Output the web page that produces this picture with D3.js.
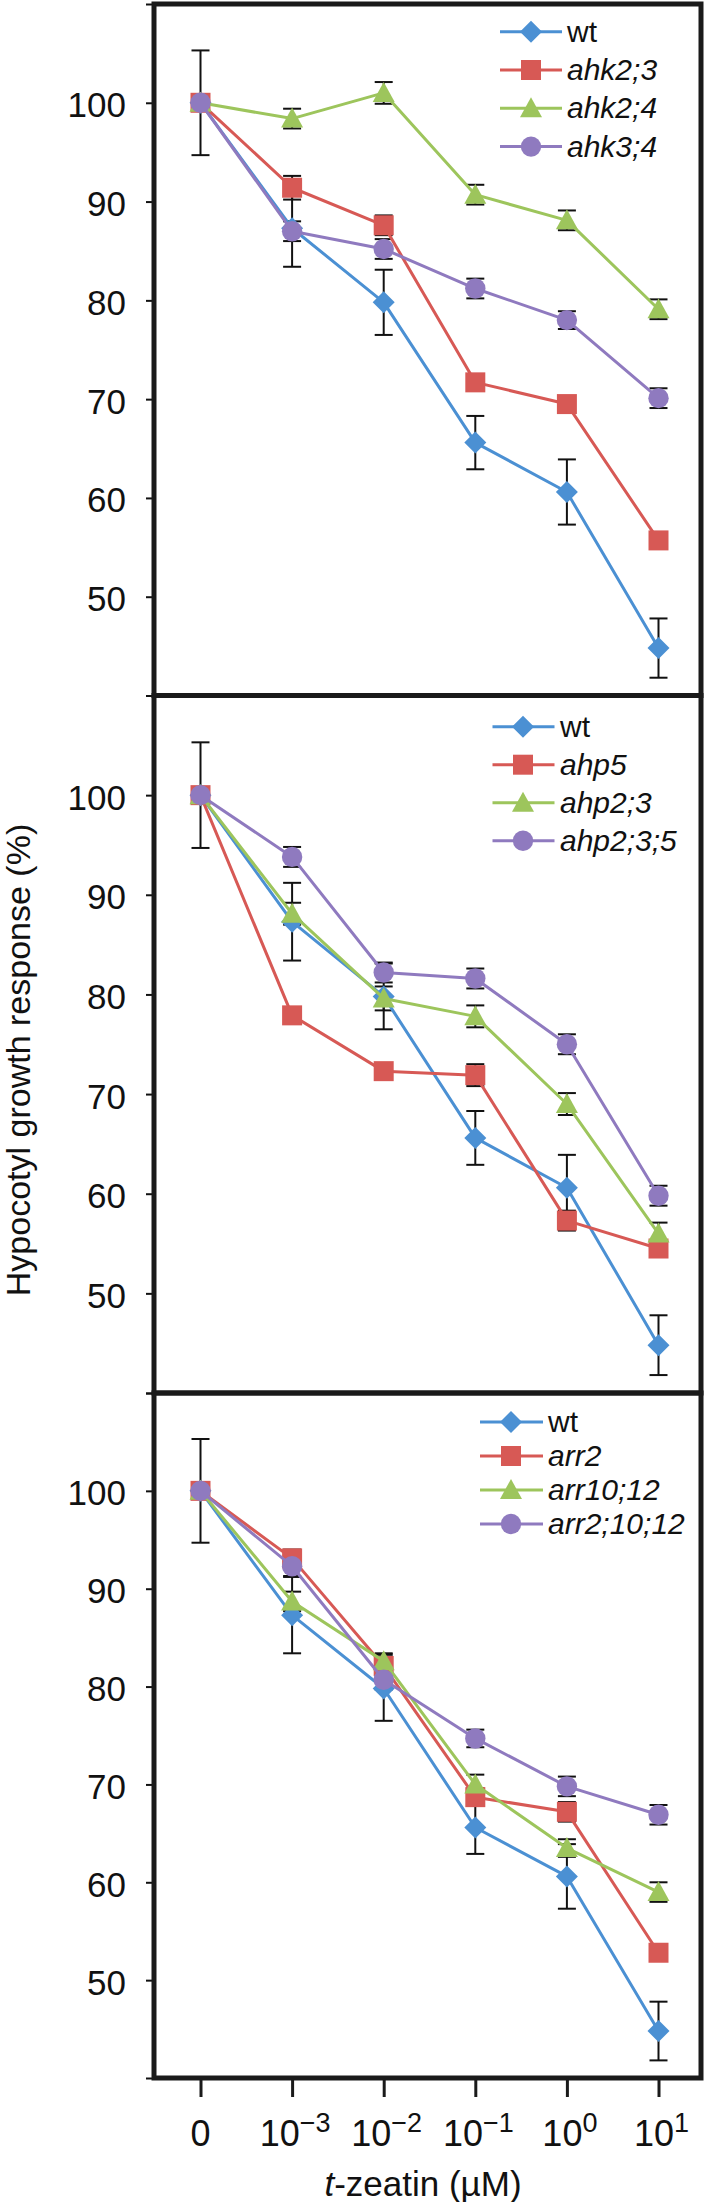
<!DOCTYPE html>
<html>
<head>
<meta charset="utf-8">
<script src="https://cdn.jsdelivr.net/npm/d3@7"></script>
<style>
  html, body { margin: 0; padding: 0; background: #ffffff; }
  svg { display: block; }
  text { font-family: "Liberation Sans", Arial, Helvetica, sans-serif; fill: #111; }
</style>
</head>
<body>
<div id="chart"></div>
<script>
// ---------- data ----------
const categories = ["0", "1e-3", "1e-2", "1e-1", "1e0", "1e1"];
const xTickBase = ["0", "10", "10", "10", "10", "10"];
const xTickExp = ["", "\u22123", "\u22122", "\u22121", "0", "1"];
const yTickValues = [40, 50, 60, 70, 80, 90, 100, 110];
const yTickLabels = ["", "50", "60", "70", "80", "90", "100", ""];

const wtValues = [100, 87.3, 79.8, 65.6, 60.6, 44.8];
const wtErrors = [5.3, 3.9, 3.3, 2.7, 3.3, 3.0];

// panel 1
const panel1Names = ["wt", "ahk2;3", "ahk2;4", "ahk3;4"];
const ahk23Values = [100, 91.4, 87.6, 71.7, 69.5, 55.7];
const ahk23Errors = [0, 1.2, 1.0, 0.7, 0.7, 0.7];
const ahk24Values = [100, 98.4, 101.0, 90.7, 88.1, 79.1];
const ahk24Errors = [0, 1.0, 1.1, 1.0, 1.0, 1.0];
const ahk34Values = [100, 87.0, 85.2, 81.2, 78.0, 70.1];
const ahk34Errors = [0, 1.0, 1.0, 1.0, 0.9, 1.0];

// panel 2
const panel2Names = ["wt", "ahp5", "ahp2;3", "ahp2;3;5"];
const ahp5Values = [100, 77.9, 72.3, 71.9, 57.3, 54.5];
const ahp5Errors = [0, 0.8, 0.7, 1.1, 1.0, 0.7];
const ahp23Values = [100, 88.1, 79.6, 77.8, 69.0, 56.0];
const ahp23Errors = [0, 1.1, 1.2, 1.1, 1.1, 1.1];
const ahp235Values = [100, 93.8, 82.2, 81.6, 75.0, 59.8];
const ahp235Errors = [0, 1.0, 1.0, 1.0, 1.0, 1.0];

// panel 3
const panel3Names = ["wt", "arr2", "arr10;12", "arr2;10;12"];
const arr2Values = [100, 93.1, 82.1, 68.7, 67.2, 52.8];
const arr2Errors = [0, 0.9, 1.2, 0.9, 1.0, 0.8];
const arr1012Values = [100, 88.7, 82.6, 70.0, 63.5, 59.0];
const arr1012Errors = [0, 1.0, 0.8, 1.0, 0.9, 1.0];
const arr21012Values = [100, 92.3, 80.7, 74.7, 69.8, 66.9];
const arr21012Errors = [0, 1.0, 1.0, 0.9, 1.0, 1.0];

const yTitle = "Hypocotyl growth response (%)";
const xTitleItalic = "t";
const xTitleRest = "-zeatin (\u00B5M)";

// ---------- styling / layout ----------
const W = 709, H = 2202;
const colors = ["#4b90d3", "#d75955", "#9dc55c", "#8f7abf"];
const frameLeft = 154, frameRight = 701;

const symDiamond = { draw(c) { const r = 11; c.moveTo(0, -r); c.lineTo(r, 0); c.lineTo(0, r); c.lineTo(-r, 0); c.closePath(); } };
const symSquare = { draw(c) { const r = 10; c.rect(-r, -r, 2 * r, 2 * r); } };
const symTriangle = { draw(c) { c.moveTo(0, -11); c.lineTo(11, 9); c.lineTo(-11, 9); c.closePath(); } };
const symCircle = { draw(c) { const r = 10.2; c.moveTo(r, 0); c.arc(0, 0, r, 0, 2 * Math.PI); } };
const symbols = [symDiamond, symSquare, symTriangle, symCircle];

const panels = [
  { top: 4, bottom: 695.5, names: panel1Names,
    values: [wtValues, ahk23Values, ahk24Values, ahk34Values],
    errors: [wtErrors, ahk23Errors, ahk24Errors, ahk34Errors],
    legend: { x0: 500, x1: 562, mx: 531, tx: 567, y0: 31.7, dy: 38.3 } },
  { top: 695.5, bottom: 1393, names: panel2Names,
    values: [wtValues, ahp5Values, ahp23Values, ahp235Values],
    errors: [wtErrors, ahp5Errors, ahp23Errors, ahp235Errors],
    legend: { x0: 492.5, x1: 554.5, mx: 523, tx: 560, y0: 726.7, dy: 38 } },
  { top: 1393, bottom: 2078, names: panel3Names,
    values: [wtValues, arr2Values, arr1012Values, arr21012Values],
    errors: [wtErrors, arr2Errors, arr1012Errors, arr21012Errors],
    legend: { x0: 480, x1: 543, mx: 511, tx: 548, y0: 1422, dy: 34 } }
];

const svg = d3.select("#chart").append("svg").attr("width", W).attr("height", H);

const x = d3.scalePoint().domain(categories).range([200.5, 658.5]);

panels.forEach((p, pi) => {
  const y = d3.scaleLinear().domain([40, 110]).range([p.bottom, p.top]);
  const g = svg.append("g");

  // y axis ticks & labels
  const yAxis = d3.axisLeft(y).tickValues(yTickValues).tickSize(7).tickPadding(20)
    .tickFormat((d, i) => yTickLabels[i]);
  const ya = g.append("g").attr("transform", `translate(${frameLeft - 1},0)`).call(yAxis);
  ya.select(".domain").remove();
  ya.selectAll(".tick line").attr("stroke", "#111").attr("stroke-width", 2);
  ya.selectAll(".tick text").attr("font-size", 35).attr("fill", "#111").attr("dy", "0.4em")
    .style("font-family", '"Liberation Sans", Arial, sans-serif');

  // error bars
  const eb = g.append("g").attr("stroke", "#111").attr("stroke-width", 2).attr("fill", "none");
  p.values.forEach((vals, si) => {
    vals.forEach((v, i) => {
      const e = p.errors[si][i];
      if (!e) return;
      const cx = x(categories[i]);
      eb.append("line").attr("x1", cx).attr("x2", cx).attr("y1", y(v - e)).attr("y2", y(v + e));
      eb.append("line").attr("x1", cx - 9).attr("x2", cx + 9).attr("y1", y(v - e)).attr("y2", y(v - e));
      eb.append("line").attr("x1", cx - 9).attr("x2", cx + 9).attr("y1", y(v + e)).attr("y2", y(v + e));
    });
  });

  // series
  const line = d3.line().x((d, i) => x(categories[i])).y(d => y(d));
  p.values.forEach((vals, si) => {
    g.append("path").datum(vals).attr("d", line).attr("fill", "none")
      .attr("stroke", colors[si]).attr("stroke-width", 3).attr("stroke-linejoin", "round");
    g.selectAll(null).data(vals).enter().append("path")
      .attr("d", d3.symbol().type(symbols[si]))
      .attr("transform", (d, i) => `translate(${x(categories[i])},${y(d)})`)
      .attr("fill", colors[si]);
  });

  // legend
  const L = p.legend;
  p.names.forEach((name, si) => {
    const ly = L.y0 + si * L.dy;
    g.append("line").attr("x1", L.x0).attr("x2", L.x1).attr("y1", ly).attr("y2", ly)
      .attr("stroke", colors[si]).attr("stroke-width", 3);
    g.append("path").attr("d", d3.symbol().type(symbols[si]))
      .attr("transform", `translate(${L.mx},${ly})`).attr("fill", colors[si]);
    g.append("text").attr("x", L.tx).attr("y", ly).attr("dy", "0.33em")
      .attr("font-size", 30).attr("font-style", si === 0 ? "normal" : "italic")
      .text(name);
  });

  // frame
  g.append("rect").attr("x", frameLeft).attr("y", p.top).attr("width", frameRight - frameLeft)
    .attr("height", p.bottom - p.top).attr("fill", "none").attr("stroke", "#1a1a1a").attr("stroke-width", 5);

  // x axis on the last panel
  if (pi === panels.length - 1) {
    const xAxis = d3.axisBottom(x).tickSize(18).tickFormat("");
    const xa = g.append("g").attr("transform", `translate(0,${p.bottom + 1})`).call(xAxis);
    xa.select(".domain").remove();
    xa.selectAll(".tick line").attr("stroke", "#1a1a1a").attr("stroke-width", 3);
    categories.forEach((c, i) => {
      const t = g.append("text").attr("x", x(c) + (xTickExp[i] ? 3 : 0)).attr("y", 2146)
        .attr("text-anchor", "middle").attr("font-size", 36);
      t.append("tspan").text(xTickBase[i]);
      if (xTickExp[i]) {
        t.append("tspan").attr("font-size", 27).attr("dy", -14).text(xTickExp[i]);
      }
    });
    const xt = g.append("text").attr("x", 423).attr("y", 2196).attr("text-anchor", "middle")
      .attr("font-size", 35);
    xt.append("tspan").attr("font-style", "italic").text(xTitleItalic);
    xt.append("tspan").text(xTitleRest);
  }
});

// y title
svg.append("text").attr("transform", "translate(30,1060) rotate(-90)")
  .attr("text-anchor", "middle").attr("font-size", 34).text(yTitle);
</script>
</body>
</html>
